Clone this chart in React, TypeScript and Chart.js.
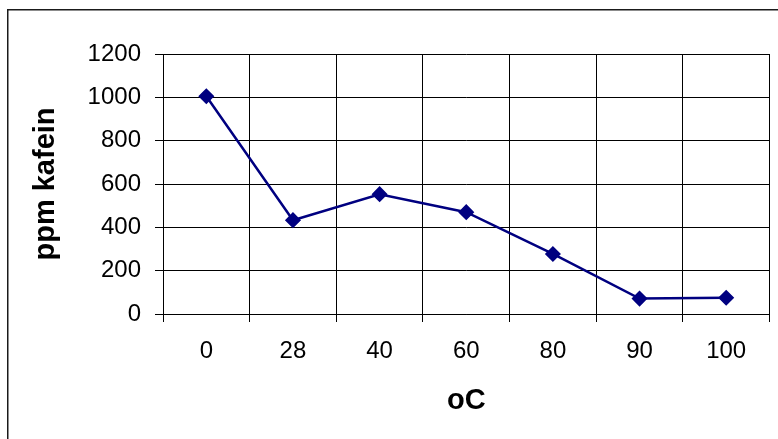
import React, { useEffect, useRef } from "react";
import { Chart, registerables } from "chart.js";

Chart.register(...registerables);

const categories = ["0", "28", "40", "60", "80", "90", "100"];
const caffeinePpm = [1005, 433, 553, 470, 277, 71, 75];
const yTicksMin = 0;
const yTicksMax = 1200;
const yTicksStep = 200;
const xTitle = "oC";
const yTitle = "ppm kafein";

const FONT = "'Liberation Sans', Arial, sans-serif";

const framePlugin = {
  id: "frame",
  beforeDraw(chart: any) {
    const ctx = chart.ctx;
    ctx.save();
    ctx.fillStyle = "#ffffff";
    ctx.fillRect(0, 0, chart.width, chart.height);
    ctx.strokeStyle = "#1a1a1a";
    ctx.lineWidth = 1.5;
    ctx.strokeRect(7.75, 9.75, 900, 600);
    ctx.restore();
  },
};

export default function App() {
  const ref = useRef<HTMLCanvasElement>(null);
  useEffect(() => {
    if (!ref.current) return;
    const chart = new Chart(ref.current, {
      type: "line",
      data: {
        labels: categories,
        datasets: [
          {
            data: caffeinePpm,
            borderColor: "#000080",
            backgroundColor: "#000080",
            borderWidth: 2.5,
            pointStyle: "rectRot",
            pointRadius: 7,
            pointBorderWidth: 1.5,
            pointBackgroundColor: "#000080",
            pointBorderColor: "#000080",
            tension: 0,
          },
        ],
      },
      options: {
        animation: false,
        responsive: false,
        devicePixelRatio: 1,
        layout: { padding: { top: 54, right: 5, left: 0, bottom: 0 } },
        plugins: { legend: { display: false }, tooltip: { enabled: false } },
        scales: {
          x: {
            type: "category",
            offset: true,
            grid: { offset: true, color: "#000000", lineWidth: 1, tickLength: 8, drawTicks: true },
            border: { color: "#000000", width: 1 },
            ticks: {
              color: "#000000",
              padding: 15,
              font: { family: FONT, size: 24 },
              maxRotation: 0,
              autoSkip: false,
            },
            title: {
              display: true,
              text: xTitle,
              color: "#000000",
              font: { family: FONT, size: 29, weight: "bold" },
              padding: { top: 0, bottom: 21 },
            },
            afterFit(scale: any) {
              scale.height = 125;
            },
          },
          y: {
            min: yTicksMin,
            max: yTicksMax,
            grid: { color: "#000000", lineWidth: 1, tickLength: 8 },
            border: { color: "#000000", width: 1 },
            ticks: {
              stepSize: yTicksStep,
              color: "#000000",
              padding: 14,
              font: { family: FONT, size: 24 },
              callback: (v: any) => String(v),
            },
            title: {
              display: true,
              text: yTitle,
              color: "#000000",
              font: { family: FONT, size: 29, weight: "bold" },
              padding: { top: 29, bottom: 0 },
            },
            afterFit(scale: any) {
              scale.width = 163;
            },
          },
        },
      },
      plugins: [framePlugin],
    });
    return () => chart.destroy();
  }, []);
  return (
    <div style={{ position: "fixed", left: 0, top: 0, width: 778, height: 439, background: "#fff" }}>
      <canvas ref={ref} width={778} height={439} style={{ display: "block", width: 778, height: 439 }} />
    </div>
  );
}
